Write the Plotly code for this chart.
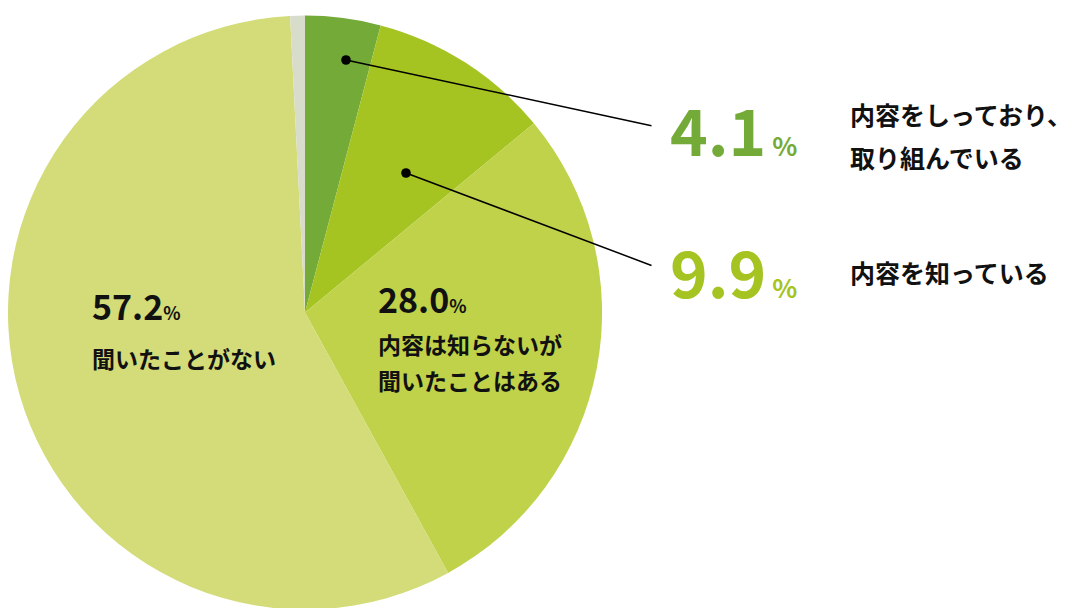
import plotly.graph_objects as go

labels = ["内容をしっており、取り組んでいる", "内容を知っている", "内容は知らないが聞いたことはある", "聞いたことがない", "無回答"]
values = [4.1, 9.9, 28.0, 57.2, 0.8]
colors = ["#74ab38", "#a5c422", "#bfd24a", "#d3dc78", "#d8dccb"]

W, H = 1088, 608
F = "Noto Sans CJK JP"
fig = go.Figure(go.Pie(labels=labels, values=values, sort=False, direction="clockwise",
                       rotation=0, marker=dict(colors=colors, line=dict(width=0)),
                       textinfo="none", hoverinfo="label+percent",
                       domain=dict(x=[0, 0.546], y=[0.008, 0.99])))

def px(x, y): return x / W, 1 - y / H

ann = []
for (x, y, tx, ty) in [(338, 52, 645, 118), (398, 165, 645, 258)]:
    X, Y = px(x, y)
    ann.append(dict(x=X, y=Y, xref="paper", yref="paper", text="", showarrow=True,
                    arrowhead=6, arrowsize=1.6, arrowwidth=1.5, arrowcolor="#000",
                    ax=tx - x, ay=ty - y, axref="pixel", ayref="pixel", startstandoff=0))
def big(x, y, num, col):
    X, Y = px(x, y)
    ann.append(dict(x=X, y=Y, xref="paper", yref="paper", xanchor="left", yanchor="middle", showarrow=False,
                    text=f"<b>{num}</b><span style='font-size:26px'><b> %</b></span>",
                    font=dict(family=F, size=64, color=col)))
big(660, 120, "4.1", "#74ab38")
big(660, 262, "9.9", "#a5c422")
def txt(x, y, t, size=24):
    X, Y = px(x, y)
    ann.append(dict(x=X, y=Y, xref="paper", yref="paper", xanchor="left", yanchor="middle", showarrow=False,
                    align="left", text=t, font=dict(family=F, size=size, color="#111")))
txt(840, 106, "<b>内容をしっており、</b>", 25)
txt(840, 149, "<b>取り組んでいる</b>", 25)
txt(840, 264, "<b>内容を知っている</b>", 25)
txt(368, 290, "<b>28.0</b><span style='font-size:18px'><b>%</b></span>", 34)
txt(368, 336, "<b>内容は知らないが</b>", 23)
txt(368, 372, "<b>聞いたことはある</b>", 23)
txt(82, 298, "<b>57.2</b><span style='font-size:18px'><b>%</b></span>", 34)
txt(82, 350, "<b>聞いたことがない</b>", 23)

fig.update_layout(width=W, height=H, margin=dict(l=0, r=0, t=0, b=0), showlegend=False,
                  paper_bgcolor="white", annotations=ann)
fig.write_html("out.html")
